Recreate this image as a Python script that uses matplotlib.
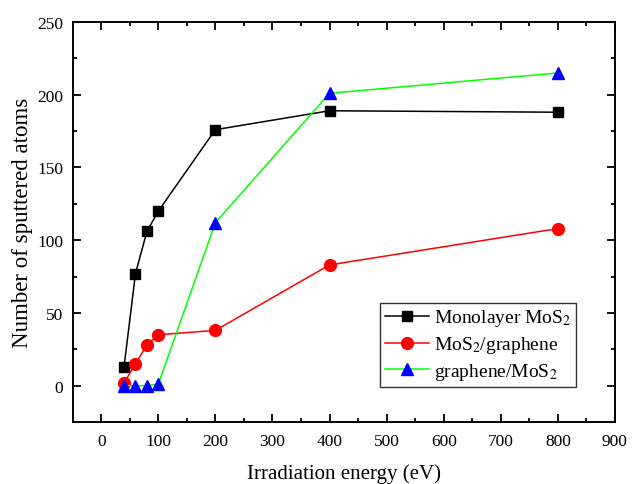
import numpy as np
import matplotlib.pyplot as plt
from matplotlib.ticker import MultipleLocator

plt.rcParams['font.family'] = ['Liberation Serif', 'DejaVu Serif']
plt.rcParams['mathtext.fontset'] = 'stix'

energy = [40, 60, 80, 100, 200, 400, 800]
mono_mos2 = [13, 77, 106, 120, 176, 189, 188]
mos2_graphene = [2, 15, 28, 35, 38, 83, 108]
graphene_mos2 = [0, 0, 0, 1, 112, 201, 215]

fig = plt.figure(figsize=(6.32, 4.85), dpi=100)
ax = fig.add_axes([0.115, 0.1278, 0.858, 0.8247])

ax.plot(energy, mono_mos2, '-s', color='black', mfc='black', mec='black',
        markersize=7.2, linewidth=1.1, label='Monolayer MoS$_2$')
ax.plot(energy, mos2_graphene, '-o', color='red', mfc='red', mec='red',
        markersize=8.5, linewidth=1.1, label='MoS$_2$/graphene')
ax.plot(energy, graphene_mos2, '-^', color='#00ff00', mfc='blue', mec='blue',
        markersize=8.5, linewidth=1.1, label='graphene/MoS$_2$')

ax.set_xlim(-50, 900)
ax.set_ylim(-25, 250)
ax.xaxis.set_major_locator(MultipleLocator(100))
ax.xaxis.set_minor_locator(MultipleLocator(50))
ax.yaxis.set_major_locator(MultipleLocator(50))
ax.yaxis.set_minor_locator(MultipleLocator(25))
ax.tick_params(which='both', direction='in', top=True, right=True,
               labelsize=12.5, width=1.3)
ax.tick_params(which='major', length=5.5)
ax.tick_params(which='minor', length=3)
ax.tick_params(axis='x', pad=8)
ax.tick_params(axis='y', pad=7)
for s in ax.spines.values():
    s.set_linewidth(1.4)

ax.set_xlabel('Irradiation energy (eV)', fontsize=15, va='top')
ax.xaxis.set_label_coords(0.5, -0.104)
ax.set_ylabel('Number of sputtered atoms', fontsize=16.5)
ax.yaxis.set_label_coords(-0.074, 0.5)

leg = ax.legend(loc='lower right', bbox_to_anchor=(0.929, 0.0875),
                borderaxespad=0, fontsize=14,
                frameon=True, fancybox=False, edgecolor='black',
                handlelength=2.27, handletextpad=0.26, borderpad=0.25,
                labelspacing=0.3)
leg.get_frame().set_linewidth(1.0)

fig.savefig('out.png', dpi=100)
